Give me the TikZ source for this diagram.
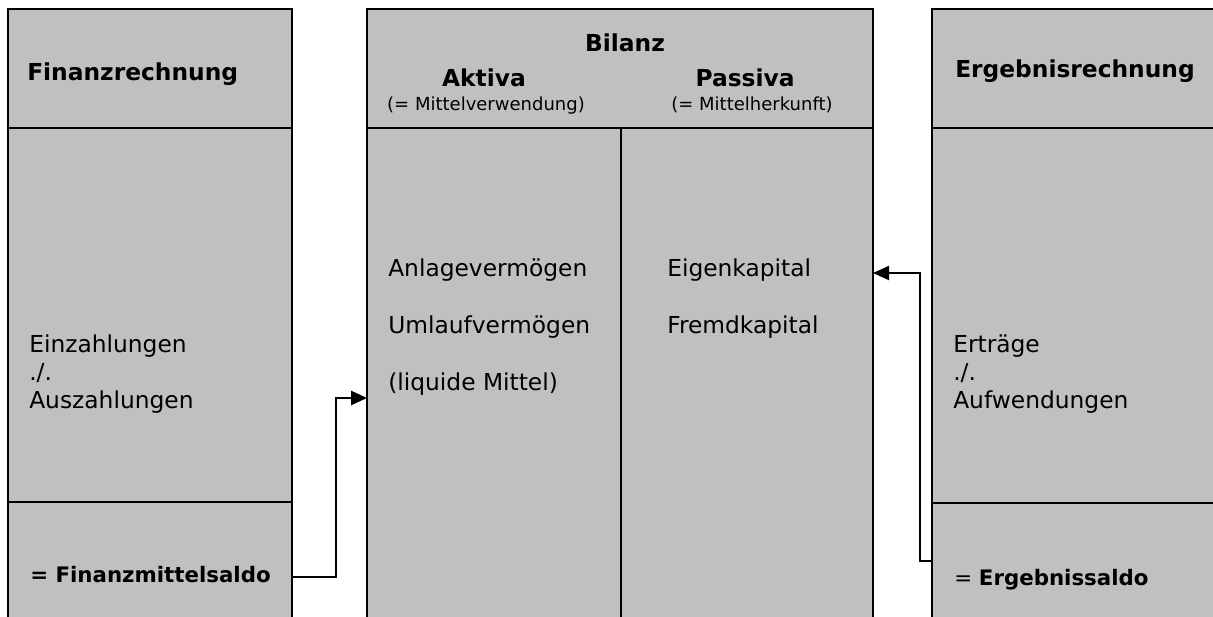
\documentclass[tikz,border=0pt]{standalone}
\usepackage{fontspec}
\setmainfont{DejaVu Sans}
\usetikzlibrary{arrows.meta}
\definecolor{boxgray}{RGB}{192,192,192}
\tikzset{
	panel/.style={draw=black, fill=boxgray, line width=1.1pt},
	head/.style={inner sep=0pt, font=\fontsize{17.5}{21}\selectfont\bfseries},
	sub/.style={anchor=base, inner sep=0pt, font=\fontsize{13.5}{16}\selectfont},
	txt/.style={anchor=base west, inner sep=0pt, font=\fontsize{17.5}{21}\selectfont},
	saldo/.style={anchor=base west, inner sep=0pt, font=\fontsize{16}{19}\selectfont},
	link/.style={-{Triangle[length=12pt,width=10.5pt]}, line width=2pt},
}
\begin{document}
\begin{tikzpicture}[x=0.75pt,y=-0.75pt]
		\useasboundingbox (0,0) rectangle (1213,617);
		\clip (0,0) rectangle (1213,617);
		% Finanzrechnung
		\draw[panel] (8,9) rectangle (292,128);
		\draw[panel] (8,128) rectangle (292,502);
		\draw[panel] (8,502) rectangle (292,640);
		% Bilanz
		\draw[panel] (367,9) rectangle (873,128);
		\draw[panel] (367,128) rectangle (621,640);
		\draw[panel] (621,128) rectangle (873,640);
		% Ergebnisrechnung
		\draw[panel] (932,9) rectangle (1240,128);
		\draw[panel] (932,128) rectangle (1240,503);
		\draw[panel] (932,503) rectangle (1240,640);
		\node[head, anchor=base west] (fhead) at (27,80) {Finanzrechnung};
		\node[head, anchor=base west] (ehead) at (955,78) {Ergebnisrechnung};
		\node[head, anchor=base] (bilanz) at (625,52) {Bilanz};
		\node[head, anchor=base] (aktiva) at (484,87) {Aktiva};
		\node[head, anchor=base] (passiva) at (745,87) {Passiva};
		\node[sub] (aktsub) at (486,110) {(= Mittelverwendung)};
		\node[sub] (passub) at (752,110) {(= Mittelherkunft)};
		\node[txt] (av) at (388,276) {Anlagevermögen};
		\node[txt] (uv) at (388,333) {Umlaufvermögen};
		\node[txt] (lm) at (388,390) {(liquide Mittel)};
		\node[txt] (ek) at (667,276) {Eigenkapital};
		\node[txt] (fk) at (667,333) {Fremdkapital};
		\node[txt] (einz) at (29,352) {Einzahlungen};
		\node[txt] (fminus) at (29,380) {./.};
		\node[txt] (ausz) at (29,408) {Auszahlungen};
		\node[txt] (ertr) at (953,352) {Erträge};
		\node[txt] (eminus) at (953,380) {./.};
		\node[txt] (aufw) at (953,408) {Aufwendungen};
		\node[saldo] (fsaldo) at (30,582) {\bfseries = Finanzmittelsaldo};
		\node[saldo] (esaldo) at (954,585) {= \textbf{Ergebnissaldo}};
		% Saldo -> Bilanz
		\coordinate (fout) at (292,577);
		\coordinate (ain) at (367,398);
		\coordinate (eout) at (932,561);
		\coordinate (pin) at (873,273);
		\draw[link] (fout) -- ++(44,0) |- (ain);
		\draw[link, line width=1.5pt] (eout) -- ++(-12,0) |- (pin);
\end{tikzpicture}
\end{document}
